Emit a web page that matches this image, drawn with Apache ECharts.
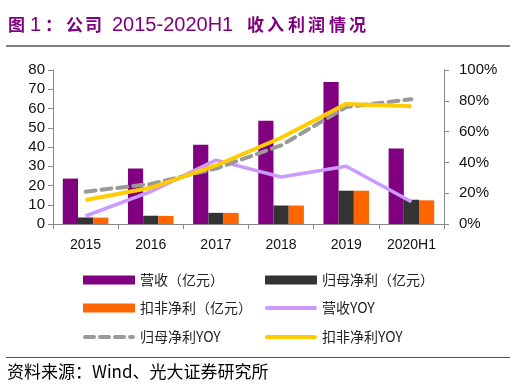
<!DOCTYPE html>
<html><head><meta charset="utf-8">
<script src="https://cdn.jsdelivr.net/npm/echarts@6/dist/echarts.min.js"></script>
<style>html,body{margin:0;padding:0;background:#fff}#c{width:514px;height:386px}</style>
</head><body><div id="c"></div>
<script>
const categories = ['2015','2016','2017','2018','2019','2020H1'];
const revenue = [23.6, 28.8, 41.2, 53.6, 73.8, 39.2];
const netProfit = [3.4, 4.3, 5.8, 9.6, 17.3, 12.6];
const deductedProfit = [3.3, 4.2, 5.8, 9.6, 17.3, 12.3];
const revenueYoy = [5.2, 21, 41.5, 30.5, 37.5, 14.5];
const netProfitYoy = [21, 26, 36, 51, 76, 81];
const deductedYoy = [15.6, 23.5, 38, 56, 78, 76.5];
const leftTicks = [0, 80, 10];
const rightTicks = [0, 100, 20];
const names = ['营收（亿元）','归母净利（亿元）','扣非净利（亿元）','营收YOY','归母净利YOY','扣非净利YOY'];
const titlePieces = [['图',8,0],['1',30,1],['：',45,0],['公',66,0],['司',85,0],['2015-2020H1',112,1],['收',247,0],['入',267,0],['利',288,0],['润',308,0],['情',329,0],['况',349,0]];

const chart = echarts.init(document.getElementById('c'));
const numFont = 'Liberation Sans, Arial, sans-serif';
const cjk = '"Noto Sans CJK SC", sans-serif';
const axisLine = {show: true, lineStyle: {color: '#888', width: 1}};
const legendPos = [[83,272],[265,272],[83,300],[265,300],[83,329],[265,329]];
const solidIcon = 'path://M2,0H50A2,2,0,0,1,50,4H2A2,2,0,0,1,2,0Z';
const dashIcon = 'path://M2,0H11A2,2,0,0,1,11,4H2A2,2,0,0,1,2,0Z M17,0H26A2,2,0,0,1,26,4H17A2,2,0,0,1,17,0Z M32,0H41A2,2,0,0,1,41,4H32A2,2,0,0,1,32,0Z M47,0H50A2,2,0,0,1,50,4H47A2,2,0,0,1,47,0Z';
const icons = ['rect','rect','rect',solidIcon,dashIcon,solidIcon];
const legends = names.map((n, i) => ({
  data: [{name: n, icon: icons[i]}], left: legendPos[i][0], top: legendPos[i][1],
  itemWidth: 52, itemHeight: i < 3 ? 9 : 4, itemGap: 6, padding: 0,
  textStyle: {fontFamily: cjk, fontSize: 14, color: '#222', height: 16, lineHeight: 16}
}));
const titleGraphics = titlePieces.map(p => ({
  type: 'text', left: p[1], top: p[2] ? 15 : 16,
  style: {text: p[0], font: p[2] ? '20px "Liberation Sans"' : 'bold 17px "Noto Sans CJK SC"', fill: '#800080'}
}));
chart.setOption({
  animation: false,
  graphic: titleGraphics.concat([
    {type: 'line', shape: {x1: 6, y1: 46, x2: 510, y2: 46}, style: {stroke: '#000', lineWidth: 1}},
    {type: 'line', shape: {x1: 6, y1: 357.5, x2: 510, y2: 357.5}, style: {stroke: '#555', lineWidth: 1}},
    {type: 'text', left: 7, top: 363, style: {text: '资料来源：Wind、光大证券研究所', font: '17px "Noto Sans CJK SC"', fill: '#000'}}
  ]),
  legend: legends,
  grid: {left: 53, right: 70, top: 70, bottom: 162},
  xAxis: {
    type: 'category', data: categories,
    axisLine: axisLine,
    axisTick: {show: true, inside: false, length: 5, lineStyle: {color: '#888'}},
    axisLabel: {fontFamily: numFont, fontSize: 14, color: '#111', margin: 14}
  },
  yAxis: [
    {type: 'value', min: leftTicks[0], max: leftTicks[1], interval: leftTicks[2],
     axisLine: axisLine, axisTick: {show: true, length: 5, lineStyle: {color: '#888'}},
     splitLine: {show: false},
     axisLabel: {fontFamily: numFont, fontSize: 15, color: '#111', margin: 8}},
    {type: 'value', min: rightTicks[0], max: rightTicks[1], interval: rightTicks[2], position: 'right',
     axisLine: axisLine, axisTick: {show: true, length: 5, lineStyle: {color: '#888'}},
     splitLine: {show: false},
     axisLabel: {fontFamily: numFont, fontSize: 15, color: '#111', margin: 15, formatter: '{value}%'}}
  ],
  series: [
    {name: names[0], type: 'bar', data: revenue, barGap: '0%', barCategoryGap: '30%', itemStyle: {color: '#800080'}},
    {name: names[1], type: 'bar', data: netProfit, itemStyle: {color: '#333333'}},
    {name: names[2], type: 'bar', data: deductedProfit, itemStyle: {color: '#FF6600'}},
    {name: names[3], type: 'line', yAxisIndex: 1, data: revenueYoy, symbol: 'none', lineStyle: {color: '#CC99FF', width: 3.5}, itemStyle: {color: '#CC99FF'}},
    {name: names[4], type: 'line', yAxisIndex: 1, data: netProfitYoy, symbol: 'none', lineStyle: {color: '#999999', width: 4, type: [10, 6], cap: 'round'}, itemStyle: {color: '#999999'}},
    {name: names[5], type: 'line', yAxisIndex: 1, data: deductedYoy, symbol: 'none', lineStyle: {color: '#FFCC00', width: 4}, itemStyle: {color: '#FFCC00'}}
  ]
});
</script></body></html>
